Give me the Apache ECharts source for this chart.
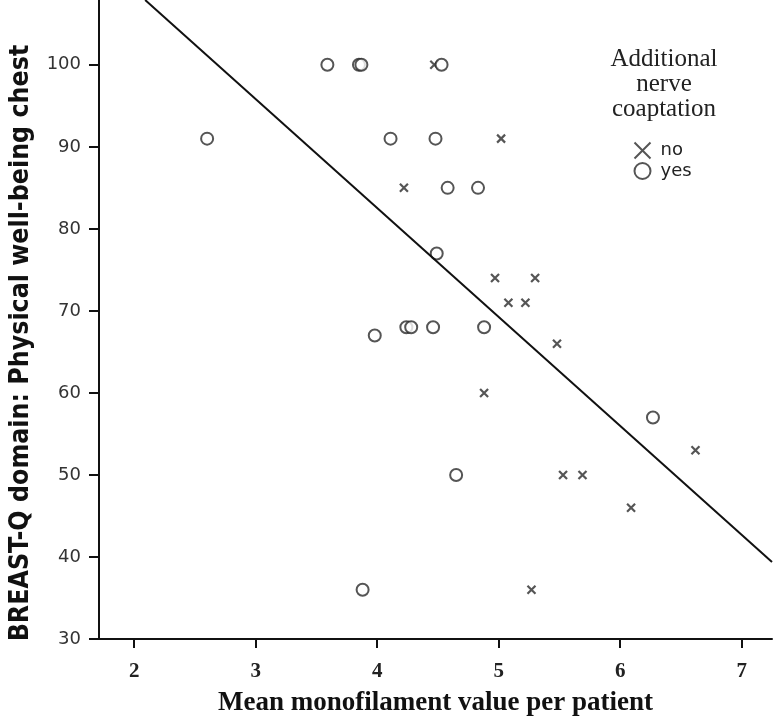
<!DOCTYPE html>
<html>
<head>
<meta charset="utf-8">
<script src="https://cdn.jsdelivr.net/npm/echarts@6/dist/echarts.min.js"></script>
<style>html,body{margin:0;padding:0;background:#fff}#c{width:774px;height:722px}</style>
</head>
<body>
<div id="c"></div>
<script>
// "no" additional nerve coaptation (crosses)
const noX = [4.47, 5.02, 4.22, 4.97, 5.30, 5.08, 5.22, 5.48, 4.88, 5.53, 5.69, 6.09, 6.62, 5.27];
const noY = [100, 91, 85, 74, 74, 71, 71, 66, 60, 50, 50, 46, 53, 36];
// "yes" additional nerve coaptation (circles)
const yesX = [2.60, 3.59, 3.85, 3.87, 4.53, 4.11, 4.48, 4.58, 4.83, 4.49, 4.24, 4.28, 3.98, 4.46, 4.88, 4.65, 3.88, 6.27];
const yesY = [91, 100, 100, 100, 100, 91, 91, 85, 85, 77, 68, 68, 67, 68, 68, 50, 36, 57];
// fitted regression line (end points)
const fitX = [2.09, 7.25];
const fitY = [107.9, 39.4];
const xTicks = [2, 3, 4, 5, 6, 7];
const yTicks = [30, 40, 50, 60, 70, 80, 90, 100];

const chart = echarts.init(document.getElementById('c'), null, {renderer: 'canvas'});
const ink = '#2a2a2a';
chart.setOption({
  animation: false,
  grid: {left: 99, top: 0, right: 2, bottom: 81, containLabel: false},
  title: {
    text: 'Additional\nnerve\ncoaptation',
    left: 664, top: 47, textAlign: 'center', padding: 0,
    textStyle: {fontFamily: 'Liberation Serif', fontSize: 25, fontWeight: 'normal', color: '#222', lineHeight: 25}
  },
  legend: {
    orient: 'vertical', left: 632, top: 140, itemWidth: 16, itemHeight: 16, itemGap: 1, padding: 0,
    data: ['no', 'yes'],
    textStyle: {fontFamily: 'DejaVu Sans', fontSize: 18, color: '#222', padding: [0, 0, 0, 5]}
  },
  graphic: [{
    type: 'text', x: 21, y: 343, rotation: Math.PI / 2,
    style: {text: 'BREAST-Q domain: Physical well-being chest', fill: '#111',
      font: 'bold 26.5px "DejaVu Sans Condensed", "DejaVu Sans"', textAlign: 'center', textVerticalAlign: 'middle'}
  }],
  xAxis: {
    type: 'value', min: 1.71, max: 7.25,
    name: 'Mean monofilament value per patient', nameLocation: 'middle', nameGap: 51,
    nameTextStyle: {fontFamily: 'Liberation Serif', fontWeight: 'bold', fontSize: 27, color: '#111'},
    axisLine: {show: true, onZero: false, lineStyle: {color: '#111', width: 2}},
    axisTick: {show: true, length: 9, customValues: xTicks, lineStyle: {color: '#111', width: 2}},
    axisLabel: {customValues: xTicks, margin: 22, fontFamily: 'Liberation Serif', fontWeight: 'bold', fontSize: 21, color: '#222'},
    splitLine: {show: false}
  },
  yAxis: {
    type: 'value', min: 30, max: 107.9,
    axisLine: {show: true, onZero: false, lineStyle: {color: '#111', width: 2}},
    axisTick: {show: true, length: 10, customValues: yTicks, lineStyle: {color: '#111', width: 2}},
    axisLabel: {customValues: yTicks, margin: 18, fontFamily: 'DejaVu Sans', fontSize: 18, color: '#333'},
    splitLine: {show: false}
  },
  series: [
    {
      name: 'no', type: 'scatter', symbol: 'path://M0,0L10,10M10,0L0,10', symbolSize: 8,
      data: noX.map((x, i) => [x, noY[i]]),
      itemStyle: {color: 'none', borderColor: ink, borderWidth: 2.2}
    },
    {
      name: 'yes', type: 'scatter', symbol: 'emptyCircle', symbolSize: 12,
      data: yesX.map((x, i) => [x, yesY[i]]),
      itemStyle: {color: ink, borderColor: ink, borderWidth: 2}
    },
    {
      name: 'fit', type: 'line', showSymbol: false, symbol: 'none', clip: true,
      data: fitX.map((x, i) => [x, fitY[i]]),
      lineStyle: {color: '#111', width: 2}
    }
  ]
});
</script>
</body>
</html>
